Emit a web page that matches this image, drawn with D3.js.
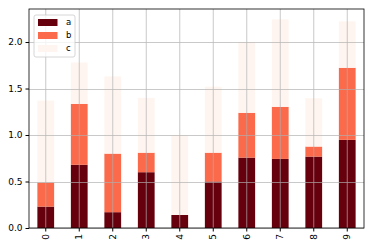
<!DOCTYPE html>
<html><head><meta charset="utf-8">
<script src="https://cdn.jsdelivr.net/npm/d3@7"></script>
<style>body{margin:0;background:#fff}svg{display:block}text{font-family:"DejaVu Sans",sans-serif}</style>
</head><body><svg id="c" width="374" height="247"></svg>
<script>
const categories = ["0","1","2","3","4","5","6","7","8","9"];
const seriesNames = ["a","b","c"];
const aValues = [0.23,0.68,0.17,0.60,0.14,0.50,0.757,0.743,0.768,0.948];
const bValues = [0.26,0.655,0.63,0.21,0.0,0.31,0.482,0.56,0.108,0.775];
const cValues = [0.88,0.445,0.83,0.59,0.86,0.71,0.76,0.94,0.52,0.50];
const yTicks = [0.0,0.5,1.0,1.5,2.0];
const colors = ["#67000d","#fb6a4a","#fff5f0"];

const W=374,H=247,m={l:29,r:10,t:9,b:19};
const svg=d3.select("#c");
const rows=categories.map((k,i)=>({k,a:aValues[i],b:bValues[i],c:cValues[i]}));
const stack=d3.stack().keys(seriesNames)(rows);
const maxTot=d3.max(rows,d=>d.a+d.b+d.c);
const x=d3.scaleBand().domain(categories).range([m.l,W-m.r]).paddingInner(0.5).paddingOuter(0.25);
const y=d3.scaleLinear().domain([0,maxTot*1.05]).range([H-m.b,m.t]);

svg.append("g").selectAll("g").data(stack).join("g").attr("fill",(d,i)=>colors[i])
 .selectAll("rect").data(d=>d).join("rect")
 .attr("x",d=>x(d.data.k)).attr("width",x.bandwidth())
 .attr("y",d=>y(d[1])).attr("height",d=>Math.max(0,y(d[0])-y(d[1])));

// grid on top
const g=svg.append("g").attr("stroke","#b0b0b0").attr("stroke-width",0.8).attr("opacity",0.85);
yTicks.forEach(t=>g.append("line").attr("x1",m.l).attr("x2",W-m.r).attr("y1",Math.round(y(t))+0.5).attr("y2",Math.round(y(t))+0.5));
categories.forEach(k=>{const cx=x(k)+x.bandwidth()/2;g.append("line").attr("x1",cx).attr("x2",cx).attr("y1",m.t).attr("y2",H-m.b);});

const ya=svg.append("g").attr("transform",`translate(${m.l},0)`).call(d3.axisLeft(y).tickValues(yTicks).tickFormat(d3.format(".1f")).tickSize(3.5).tickPadding(3));
const xa=svg.append("g").attr("transform",`translate(0,${H-m.b})`).call(d3.axisBottom(x).tickSize(3.5).tickPadding(3));
[ya,xa].forEach(a=>{a.select(".domain").remove();a.selectAll("text").attr("font-size",9).attr("fill","#000");a.selectAll("line").attr("stroke","#000");});
xa.selectAll("text").attr("transform","rotate(-90)").attr("text-anchor","end").attr("dy","0.32em").attr("x",-6).attr("y",0);

svg.append("rect").attr("x",m.l).attr("y",m.t).attr("width",W-m.l-m.r).attr("height",H-m.t-m.b).attr("fill","none").attr("stroke","#000").attr("stroke-width",0.8);

// legend
const lg=svg.append("g").attr("transform","translate(34,15)");
lg.append("rect").attr("width",41).attr("height",42).attr("rx",2).attr("fill","#fff").attr("fill-opacity",0.8).attr("stroke","#ccc").attr("stroke-width",0.8);
seriesNames.forEach((s,i)=>{
 lg.append("rect").attr("x",4).attr("y",4+i*13).attr("width",19.5).attr("height",7).attr("fill",colors[i]);
 lg.append("text").attr("x",32).attr("y",7.5+i*13).attr("dy","0.35em").attr("font-size",8.5).text(s);
});
</script></body></html>
